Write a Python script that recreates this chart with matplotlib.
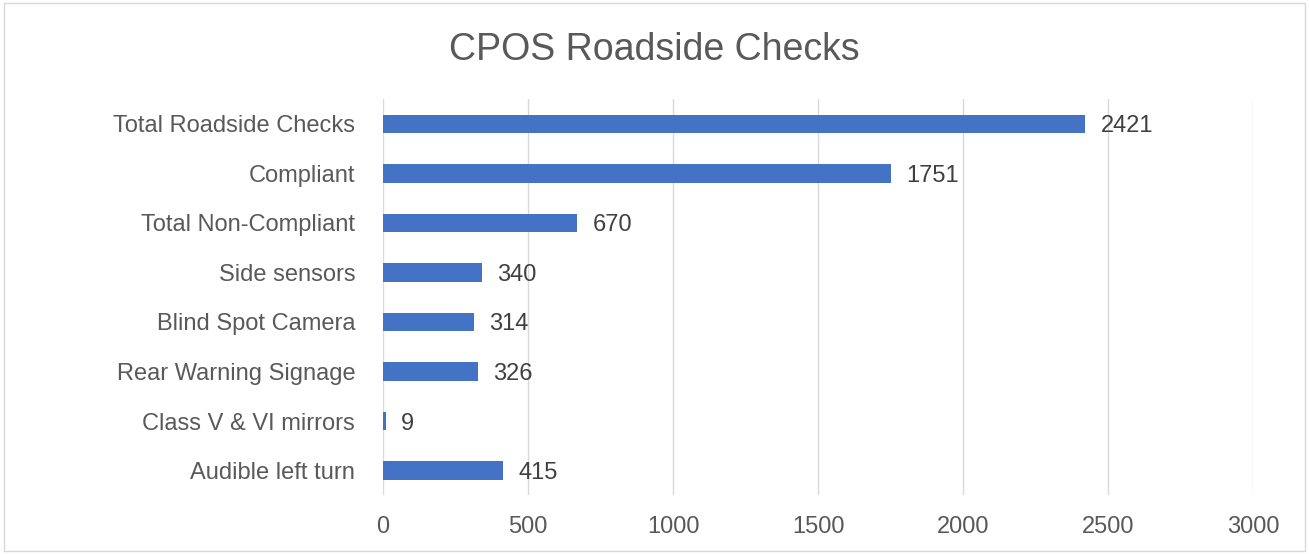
import matplotlib.pyplot as plt
from matplotlib.patches import Rectangle

plt.rcParams['font.family'] = ['Liberation Sans', 'DejaVu Sans']

categories = ['Total Roadside Checks', 'Compliant', 'Total Non-Compliant', 'Side sensors',
              'Blind Spot Camera', 'Rear Warning Signage', 'Class V & VI mirrors', 'Audible left turn']
values = [2421, 1751, 670, 340, 314, 326, 9, 415]
x_ticks = [0, 500, 1000, 1500, 2000, 2500, 3000]

fig = plt.figure(figsize=(13.09, 5.54), dpi=100)
ax = fig.add_axes([0.2926, 0.106, 0.665, 0.715])

ypos = list(range(len(categories)))
ax.barh(ypos, values, height=0.37, color='#4472C4', zorder=3)
ax.set_ylim(len(categories) - 0.5, -0.5)
ax.set_xlim(0, 3000)
ax.set_yticks(ypos)
ax.set_yticklabels(categories, fontsize=17, color='#595959')
ax.set_xticks(x_ticks)
ax.set_xticklabels([str(t) for t in x_ticks], fontsize=17, color='#595959')
ax.tick_params(axis='both', length=0)
ax.tick_params(axis='y', pad=20)
ax.tick_params(axis='x', pad=15)
ax.grid(axis='x', color='#D9D9D9', linewidth=1, zorder=0)
for s in ax.spines.values():
    s.set_visible(False)

for y, v in zip(ypos, values):
    ax.text(v + 52, y, str(v), va='center_baseline', ha='left', fontsize=17, color='#404040')

fig.text(0.5, 0.91, 'CPOS Roadside Checks', ha='center', va='center', fontsize=27, color='#595959')

fig.patches.append(Rectangle((0.003, 0.006), 0.994, 0.988, transform=fig.transFigure,
                             fill=False, edgecolor='#D9D9D9', linewidth=1))

fig.savefig('out.png', dpi=100)
